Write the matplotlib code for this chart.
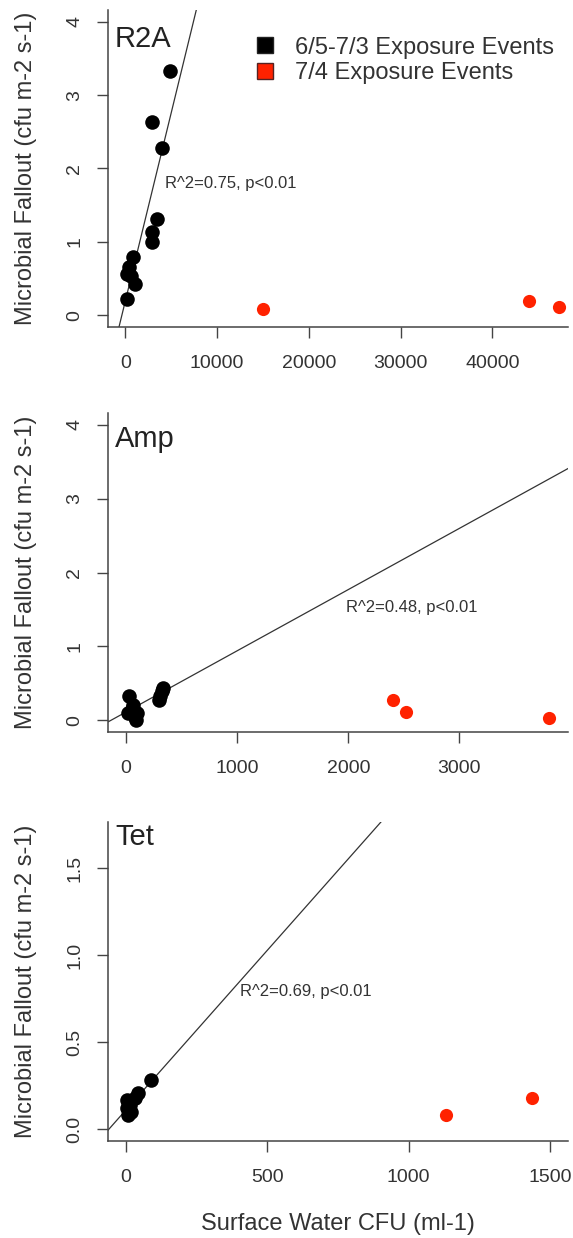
import matplotlib.pyplot as plt
from matplotlib.lines import Line2D
from matplotlib.ticker import FormatStrFormatter

plt.rcParams['font.family'] = ['Liberation Sans', 'DejaVu Sans']

# R2A
r2a_black_x = [4900, 2950, 3950, 3400, 2900, 2950, 850, 450, 200, 600, 1000, 150]
r2a_black_y = [3.33, 2.63, 2.28, 1.31, 1.14, 1.00, 0.80, 0.66, 0.56, 0.53, 0.43, 0.22]
r2a_red_x = [15050, 44000, 47300]
r2a_red_y = [0.08, 0.19, 0.11]
r2a_fit = (0.195, 5.13e-4)
r2a_note = "R^2=0.75, p<0.01"

# Amp
amp_black_x = [30, 20, 50, 80, 100, 60, 90, 300, 310, 320, 330]
amp_black_y = [0.33, 0.10, 0.15, 0.05, 0.10, 0.20, 0.00, 0.28, 0.33, 0.40, 0.44]
amp_red_x = [2400, 2520, 3805]
amp_red_y = [0.28, 0.11, 0.03]
amp_fit = (0.111, 8.29e-4)
amp_note = "R^2=0.48, p<0.01"

# Tet
tet_black_x = [90, 45, 35, 5, 5, 10, 20, 15]
tet_black_y = [0.28, 0.21, 0.18, 0.17, 0.12, 0.08, 0.10, 0.14]
tet_red_x = [1130, 1435]
tet_red_y = [0.08, 0.18]
tet_fit = (0.108, 1.84e-3)
tet_note = "R^2=0.69, p<0.01"

legend_labels = ["6/5-7/3 Exposure Events", "7/4 Exposure Events"]

panels = [
    dict(name="R2A", bx=r2a_black_x, by=r2a_black_y, rx=r2a_red_x, ry=r2a_red_y, fit=r2a_fit,
         note=r2a_note, note_xy=(4300, 1.79), note_ha='left',
         xlim=(-1890, 48250), ylim=(-0.16, 4.16), xticks=[0, 10000, 20000, 30000, 40000],
         yticks=[0, 1, 2, 3, 4], fmt='%d', rect=[0.1885, 0.7359, 0.803, 0.256], name_y=0.883),
    dict(name="Amp", bx=amp_black_x, by=amp_black_y, rx=amp_red_x, ry=amp_red_y, fit=amp_fit,
         note=amp_note, note_xy=(2574, 1.52), note_ha='center',
         xlim=(-162, 3978), ylim=(-0.16, 4.16), xticks=[0, 1000, 2000, 3000],
         yticks=[0, 1, 2, 3, 4], fmt='%d', rect=[0.1885, 0.4087, 0.803, 0.2577], name_y=0.893),
    dict(name="Tet", bx=tet_black_x, by=tet_black_y, rx=tet_red_x, ry=tet_red_y, fit=tet_fit,
         note=tet_note, note_xy=(635, 0.79), note_ha='center',
         xlim=(-62, 1563), ylim=(-0.068, 1.768), xticks=[0, 500, 1000, 1500],
         yticks=[0.0, 0.5, 1.0, 1.5], fmt='%.1f', rect=[0.1885, 0.0784, 0.803, 0.2577], name_y=0.928),
]

fig = plt.figure(figsize=(5.73, 12.38), dpi=100)
axes = []
for p in panels:
    ax = fig.add_axes(p['rect'])
    ax.scatter(p['bx'], p['by'], s=110, color='black', zorder=3, linewidths=0)
    ax.scatter(p['rx'], p['ry'], s=90, color='#ff2200', zorder=3, linewidths=0)
    ax.axline((0, p['fit'][0]), slope=p['fit'][1], color='#333333', lw=0.9)
    ax.set_xlim(p['xlim'])
    ax.set_ylim(p['ylim'])
    ax.set_xticks(p['xticks'])
    ax.set_yticks(p['yticks'])
    ax.yaxis.set_major_formatter(FormatStrFormatter(p['fmt']))
    for s in ['top', 'right']:
        ax.spines[s].set_visible(False)
    for s in ['left', 'bottom']:
        ax.spines[s].set_color('#444444')
        ax.spines[s].set_linewidth(1.1)
    ax.tick_params(direction='out', length=8, width=1, color='#444444',
                   labelsize=14, labelcolor='#333333')
    ax.tick_params(axis='x', pad=12)
    ax.tick_params(axis='y', pad=10, labelrotation=90)
    for lab in ax.get_yticklabels():
        lab.set_va('center')
    ax.text(0.015, p['name_y'], p['name'], transform=ax.transAxes, fontsize=21,
            color='#222222', va='baseline', ha='left')
    ax.text(p['note_xy'][0], p['note_xy'][1], p['note'], fontsize=12, color='#333333',
            ha=p['note_ha'], va='center')
    ax.set_ylabel("Microbial Fallout (cfu m-2 s-1)", fontsize=17, color='#333333')
    ax.yaxis.set_label_coords(-0.155, 0.5)
    axes.append(ax)

handles = [Line2D([], [], marker='s', linestyle='none', markersize=12,
                  markerfacecolor='black', markeredgecolor='#222222'),
           Line2D([], [], marker='s', linestyle='none', markersize=12,
                  markerfacecolor='#ff2200', markeredgecolor='#552222')]
axes[0].legend(handles, legend_labels, loc='upper left', bbox_to_anchor=(0.316, 0.916),
               frameon=False, fontsize=17, handlelength=1, handletextpad=0.77,
               labelspacing=0.15, borderpad=0, borderaxespad=0, labelcolor='#333333')

fig.text(0.59, 0.0113, "Surface Water CFU (ml-1)", fontsize=17, color='#333333',
         ha='center', va='center')

fig.savefig("out.png", dpi=100)
